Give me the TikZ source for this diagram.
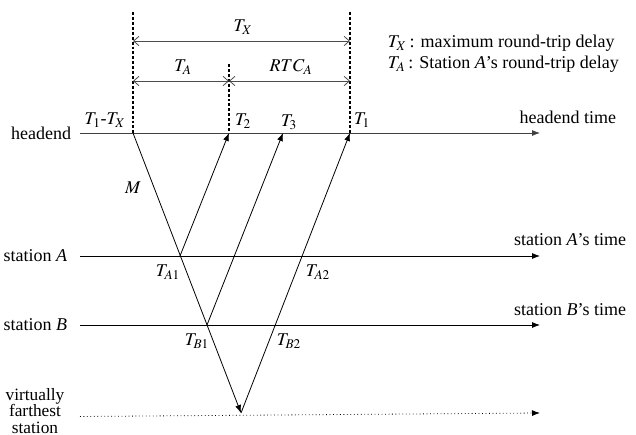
\documentclass[tikz,border=0pt]{standalone}
\usepackage{mathptmx}
\usepackage{fontspec}
\setmainfont{Liberation Serif}
\usetikzlibrary{arrows.meta}

\begin{document}
\begin{tikzpicture}[x=0.75pt, y=-0.75pt, line width=0.6pt,
    font=\fontsize{13.5}{15}\selectfont,
    >={Latex[length=6pt, width=4.5pt]},
    timeline/.style={->},
    signal/.style={->},
    marker/.style={line width=2.2pt, dash pattern=on 2.2pt off 1.5pt},
    dimline/.style={black!70, {Straight Barb[length=4pt, width=7pt]}-{Straight Barb[length=4pt, width=7pt]}}]
  \useasboundingbox (0,0) rectangle (636,435);

  % Time axes
  \coordinate (hL) at (80,133);  \coordinate (hR) at (540,133);
  \coordinate (aL) at (80,256);  \coordinate (aR) at (540,256);
  \coordinate (bL) at (80,325);  \coordinate (bR) at (540,325);
  \coordinate (vL) at (80,416.5);\coordinate (vR) at (540,413);
  \draw[timeline, black!75] (hL) -- (hR);
  \draw[timeline] (aL) -- (aR);
  \draw[timeline] (bL) -- (bR);
  \draw[timeline, dotted] (vL) -- (vR);

  \node[anchor=east] (head) at (76,133) {headend};
  \node[anchor=east] (staA) at (72,256) {station \textit{A}};
  \node[anchor=east] (staB) at (72,325) {station \textit{B}};
  \node[align=center, inner sep=0pt, font=\fontsize{13}{12.2}\selectfont] (staV) at (35,411)
        {virtually\\farthest\\station};
  \node[anchor=east] (headT) at (621,117) {headend time};
  \node[anchor=east] (timeA) at (631,240) {station \textit{A}'s time};
  \node[anchor=east] (timeB) at (631,310) {station \textit{B}'s time};

  % Event points
  \coordinate (tx) at (133,133);
  \coordinate (t2) at (229,133);
  \coordinate (t3) at (283,133);
  \coordinate (t1) at (350,133);
  \coordinate (a1) at (180,256);
  \coordinate (b1) at (207,325);
  \coordinate (v)  at (241,413);

  % Markers above headend
  \coordinate (txTop) at (133,12);
  \coordinate (t2Top) at (229,64);
  \coordinate (t1Top) at (350,12);
  \draw[marker] (txTop) -- (tx);
  \draw[marker] (t2Top) -- (t2);
  \draw[marker] (t1Top) -- (t1);

  % Delay spans
  \draw[dimline] (133,41) -- (350,41);
  \draw[dimline] (133,81) -- (229,81);
  \draw[dimline] (229,81) -- (350,81);
  \node (lTX)  at (243,27) {$T_X$};
  \node (lTA)  at (183,67) {$T_A$};
  \node (lRTC) at (291,67) {$RTC_A$};

  % Legend
  \node[anchor=west] (legX) at (383,43) {$T_X$\,: maximum round-trip delay};
  \node[anchor=west] (legA) at (383,64) {$T_A$\,: Station \textit{A}'s round-trip delay};

  % Message and replies
  \draw[signal] (tx) -- (v);
  \draw[signal] (a1) -- (t2);
  \draw[signal] (b1) -- (t3);
  \draw[signal] (v) -- (t1);

  % Time labels
  \node (lT1TX) at (105,120) {$T_1$-$T_X$};
  \node (lT2) at (243,121) {$T_2$};
  \node (lT3) at (289,122) {$T_3$};
  \node (lT1) at (362,120) {$T_1$};
  \node (lM)  at (133,188) {$M$};
  \node (lTA1) at (168,272) {$T_{A1}$};
  \node (lTA2) at (318,272) {$T_{A2}$};
  \node (lTB1) at (197,341) {$T_{B1}$};
  \node (lTB2) at (289,341) {$T_{B2}$};
\end{tikzpicture}
\end{document}
